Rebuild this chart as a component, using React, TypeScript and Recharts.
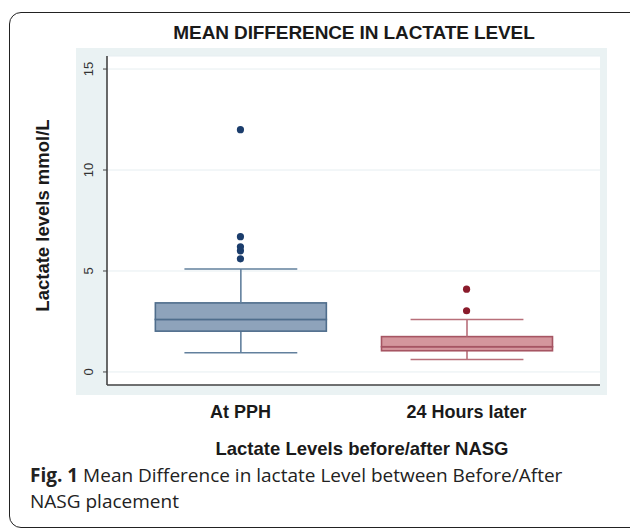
import React from "react";
import {
  ComposedChart,
  Bar,
  Scatter,
  XAxis,
  YAxis,
  CartesianGrid,
} from "recharts";

// box plot summary per group
const CATEGORIES = ["At PPH", "24 Hours later"];
const POSITIONS = [1, 2];
const MINS = [0.95, 0.62];
const Q1S = [2.02, 1.05];
const MEDIANS = [2.6, 1.25];
const Q3S = [3.42, 1.75];
const MAXS = [5.1, 2.6];
const OUTLIERS_PPH = [5.6, 6.0, 6.2, 6.7, 12.0];
const OUTLIERS_24H = [3.03, 4.1];
const Y_TICKS = [0, 5, 10, 15];

const BOX_FILL = ["#8ea3bb", "#d4969d"];
const BOX_STROKE = ["#4f6d8c", "#a65563"];
const WHISKER = ["#62809d", "#b86f7a"];
const DOT = ["#1b3d6c", "#8a1b2b"];

const FONT = "'Liberation Sans', Arial, sans-serif";

const boxData = POSITIONS.map((pos, i) => ({
  pos,
  base: MINS[i],
  lowWhisker: Q1S[i] - MINS[i],
  lowBox: MEDIANS[i] - Q1S[i],
  highBox: Q3S[i] - MEDIANS[i],
  highWhisker: MAXS[i] - Q3S[i],
}));

const outPPH = OUTLIERS_PPH.map((val) => ({ pos: POSITIONS[0], val }));
const out24 = OUTLIERS_24H.map((val) => ({ pos: POSITIONS[1], val }));

const CAP = 0.66;

const Empty = () => null;

const LowWhisker = (p: any) => {
  const cx = p.x + p.width / 2;
  const half = (p.width * CAP) / 2;
  const c = WHISKER[p.index];
  return (
    <g>
      <line x1={cx} x2={cx} y1={p.y} y2={p.y + p.height} stroke={c} strokeWidth={1.6} />
      <line x1={cx - half} x2={cx + half} y1={p.y + p.height} y2={p.y + p.height} stroke={c} strokeWidth={1.6} />
    </g>
  );
};

const HighWhisker = (p: any) => {
  const cx = p.x + p.width / 2;
  const half = (p.width * CAP) / 2;
  const c = WHISKER[p.index];
  return (
    <g>
      <line x1={cx} x2={cx} y1={p.y} y2={p.y + p.height} stroke={c} strokeWidth={1.6} />
      <line x1={cx - half} x2={cx + half} y1={p.y} y2={p.y} stroke={c} strokeWidth={1.6} />
    </g>
  );
};

const BoxPart = (p: any) => (
  <rect
    x={p.x}
    y={p.y}
    width={p.width}
    height={p.height}
    fill={BOX_FILL[p.index]}
    stroke={BOX_STROKE[p.index]}
    strokeWidth={1.6}
  />
);

const dot = (color: string) => (p: any) => (
  <circle cx={p.cx} cy={p.cy} r={3.6} fill={color} />
);

const YTick = ({ x, y, payload }: any) => (
  <text
    x={x}
    y={y}
    transform={`rotate(-90 ${x} ${y})`}
    textAnchor="middle"
    fontSize={13}
    fontFamily={FONT}
    fill="#333"
  >
    {payload.value}
  </text>
);

const XTick = ({ x, y, payload }: any) => (
  <text
    x={x}
    y={y + 33}
    textAnchor="middle"
    fontSize={18}
    fontWeight="bold"
    fontFamily={FONT}
    fill="#1a1a1a"
  >
    {CATEGORIES[POSITIONS.indexOf(payload.value)]}
  </text>
);

const YLabel = ({ viewBox }: any) => {
  const cx = 42;
  const cy = viewBox.y + viewBox.height / 2 - 5;
  return (
    <text
      x={cx}
      y={cy}
      transform={`rotate(-90 ${cx} ${cy})`}
      textAnchor="middle"
      dominantBaseline="central"
      fontSize={18.5}
      fontWeight="bold"
      fontFamily={FONT}
      fill="#1a1a1a"
    >
      Lactate levels mmol/L
    </text>
  );
};

const XLabel = ({ viewBox }: any) => (
  <text
    x={362}
    y={viewBox.y + 70}
    textAnchor="middle"
    fontSize={18.5}
    fontWeight="bold"
    fontFamily={FONT}
    fill="#1a1a1a"
  >
    Lactate Levels before/after NASG
  </text>
);

export default function App() {
  return (
    <div
      style={{
        position: "absolute",
        left: 0,
        top: 0,
        width: 630,
        height: 529,
        overflow: "hidden",
        background: "#fff",
      }}
    >
      {/* rounded frame, cut off at right and bottom */}
      <div
        style={{
          position: "absolute",
          left: 9,
          top: 12,
          width: 640,
          height: 514,
          border: "1.5px solid #222",
          borderRadius: 12,
        }}
      />
      {/* graph region background */}
      <div
        style={{
          position: "absolute",
          left: 76,
          top: 48,
          width: 531,
          height: 347,
          background: "#eaf2f3",
        }}
      />
      <div
        style={{
          position: "absolute",
          left: 0,
          top: 22,
          width: 708,
          textAlign: "center",
          fontFamily: FONT,
          fontWeight: "bold",
          fontSize: 19,
          letterSpacing: -0.1,
          color: "#1a1a1a",
          lineHeight: "22px",
        }}
      >
        MEAN DIFFERENCE IN LACTATE LEVEL
      </div>
      <div style={{ position: "absolute", left: 0, top: 0 }}>
        <ComposedChart
          width={630}
          height={470}
          data={boxData}
          margin={{ top: 56, right: 30, bottom: 0, left: 0 }}
        >
          <CartesianGrid vertical={false} stroke="#e6eef1" fill="#ffffff" />
          <XAxis
            dataKey="pos"
            type="number"
            domain={[0.41, 2.59]}
            ticks={POSITIONS}
            allowDataOverflow
            tickLine={false}
            tickSize={0}
            tickMargin={0}
            height={85}
            axisLine={{ stroke: "#444", strokeWidth: 1.6 }}
            tick={<XTick />}
            label={<XLabel />}
          />
          <YAxis
            type="number"
            domain={[-0.646, 15.646]}
            ticks={Y_TICKS}
            allowDataOverflow
            width={107}
            tickSize={4}
            tickMargin={10}
            tickLine={{ stroke: "#444" }}
            axisLine={{ stroke: "#444", strokeWidth: 1.6 }}
            tick={<YTick />}
            label={<YLabel />}
          />
          <Bar dataKey="base" stackId="box" barSize={171} shape={<Empty />} isAnimationActive={false} />
          <Bar dataKey="lowWhisker" stackId="box" barSize={171} shape={<LowWhisker />} isAnimationActive={false} />
          <Bar dataKey="lowBox" stackId="box" barSize={171} shape={<BoxPart />} isAnimationActive={false} />
          <Bar dataKey="highBox" stackId="box" barSize={171} shape={<BoxPart />} isAnimationActive={false} />
          <Bar dataKey="highWhisker" stackId="box" barSize={171} shape={<HighWhisker />} isAnimationActive={false} />
          <Scatter data={outPPH} dataKey="val" shape={dot(DOT[0])} isAnimationActive={false} />
          <Scatter data={out24} dataKey="val" shape={dot(DOT[1])} isAnimationActive={false} />
        </ComposedChart>
      </div>
      <div
        style={{
          position: "absolute",
          left: 30,
          top: 462,
          fontFamily: "'Open Sans', 'Noto Sans', sans-serif",
          fontSize: 19,
          lineHeight: "26px",
          color: "#222",
          whiteSpace: "nowrap",
        }}
      >
        <b>Fig. 1</b> Mean Difference in lactate Level between Before/After
        <br />
        NASG placement
      </div>
    </div>
  );
}
